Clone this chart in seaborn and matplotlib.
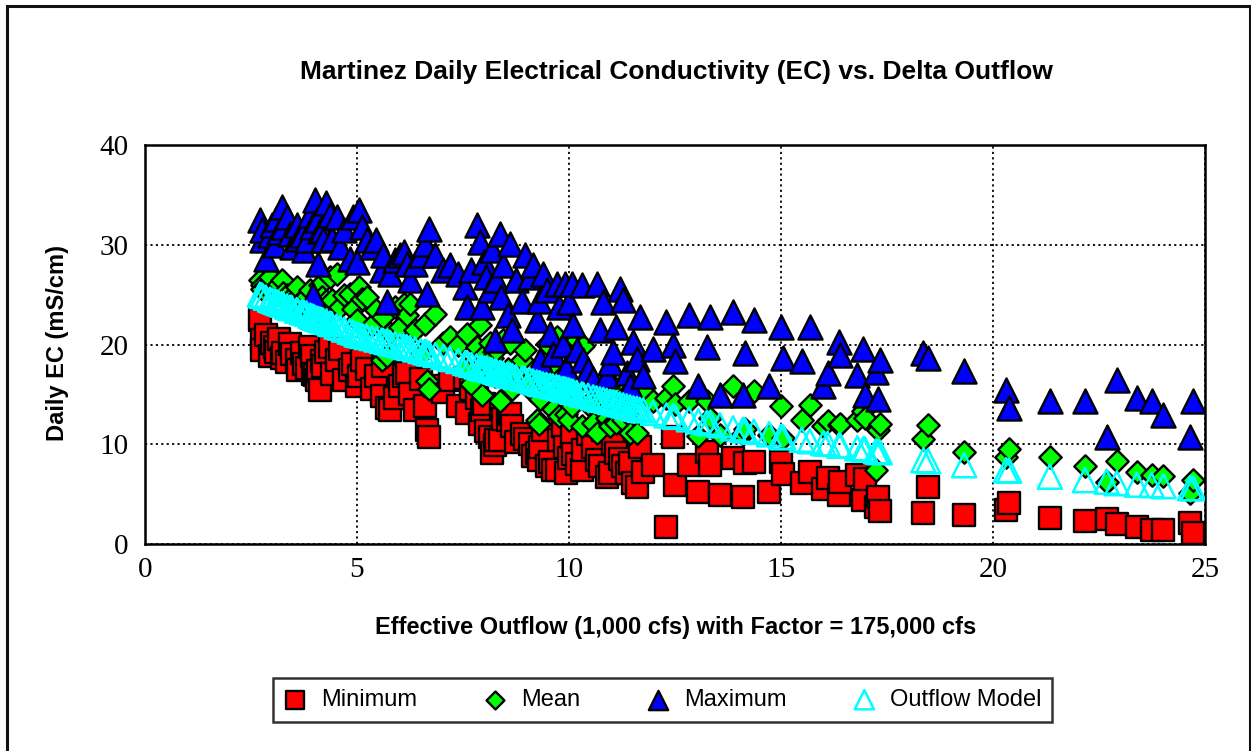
import matplotlib
matplotlib.use("Agg")
import matplotlib.pyplot as plt
from matplotlib.patches import Rectangle
import seaborn as sns
import pandas as pd

# Effective Delta outflow (1,000 cfs) for each day
outflow = [
    2.71, 2.75, 2.77, 2.85, 2.95, 3.00, 3.07, 3.10, 3.15, 3.22, 3.26,
    3.35, 3.42, 3.46, 3.58, 3.60, 3.70, 3.75, 3.81, 3.90, 3.95, 3.97, 4.00, 4.05, 4.09, 4.13, 4.17, 4.20, 4.28,
    4.36, 4.40, 4.52, 4.60, 4.70, 4.83, 4.91, 4.99, 5.05, 5.13, 5.23,
    5.35, 5.46, 5.58, 5.62, 5.70, 5.78, 5.90, 6.01, 6.10, 6.17, 6.25,
    6.37, 6.50, 6.60, 6.64, 6.70, 6.85, 7.04, 7.19, 7.39,
    7.55, 7.60, 7.70, 7.82, 7.90, 7.95, 8.00, 8.05, 8.14, 8.18, 8.25, 8.29, 8.37, 8.40, 8.45,
    8.55, 8.61, 8.66, 8.75, 8.90, 8.96, 9.08, 9.15, 9.24, 9.30, 9.32, 9.39, 9.47, 9.55, 9.62,
    9.71, 9.77, 9.85, 9.90, 9.94, 10.00, 10.06, 10.10, 10.18, 10.30, 10.34, 10.45, 10.57, 10.65,
    10.73, 10.81, 10.89, 10.97, 11.04, 11.12, 11.20, 11.28, 11.36, 11.44, 11.52, 11.60, 11.67, 11.75,
    11.98, 12.30, 12.45, 12.50, 12.83, 13.05, 13.25, 13.33, 13.56, 13.87, 14.10, 14.15, 14.36, 14.72,
    15.00, 15.05, 15.49, 15.68, 16.00, 16.10, 16.37, 16.40, 16.80, 16.94, 16.98, 17.24, 17.29, 17.33,
    18.36, 18.47, 19.32, 20.31, 20.38, 21.34, 22.17, 22.68, 22.92, 23.39, 23.74, 24.02, 24.65, 24.72,
]

# Daily minimum EC (mS/cm)
ec_min = [
    22.5, 20.5, 19.5, 21.0, 18.8, 20.2, 19.8, 19.3, 20.6, 18.6, 19.1,
    18.2, 20.1, 19.0, 18.4, 17.4, 19.2, 18.0, 17.6, 19.8, 18.8, 17.0, 16.9, 16.4, 17.3, 15.4, 18.3, 17.8, 19.3,
    19.8, 17.0, 18.4, 19.6, 16.4, 17.4, 18.0, 15.8, 16.8, 18.4, 17.5,
    15.5, 16.8, 14.8, 17.8, 13.6, 13.4, 14.6, 15.8, 16.8, 17.1, 15.0,
    13.4, 16.5, 13.8, 11.4, 10.7, 15.8, 15.2, 16.4, 13.8,
    16.6, 13.1, 15.5, 14.6, 12.0, 13.4, 14.0, 11.3, 10.75, 9.1, 9.9, 10.4, 10.4, 13.5, 12.5,
    12.4, 13.0, 11.8, 10.2, 11.0, 10.5, 10.0, 8.8, 9.1, 8.4, 9.75, 11.4, 7.8, 8.2, 7.4,
    7.4, 10.4, 11.8, 9.75, 7.1, 8.6, 10.75, 9.0, 8.0, 7.4, 9.4, 11.0, 9.75, 8.4,
    7.8, 11.4, 6.75, 7.1, 10.0, 9.1, 8.5, 7.8, 7.1, 8.1, 6.1, 5.7, 9.75, 7.2,
    7.9, 1.7, 10.75, 5.9, 7.9, 5.25, 9.25, 7.9, 4.9, 8.6, 4.75, 8.1, 8.25, 5.25,
    8.25, 7.0, 6.1, 7.25, 5.5, 6.6, 4.9, 6.2, 6.9, 4.4, 6.5, 3.7, 4.75, 3.3,
    3.1, 5.75, 2.9, 3.4, 4.1, 2.65, 2.3, 2.5, 2.0, 1.75, 1.4, 1.4, 2.1, 1.1,
]

# Daily mean EC (mS/cm)
ec_mean = [
    26.5, 26.0, 25.6, 25.9, 26.8, 25.3, 25.5, 25.0, 26.1, 26.5, 25.2,
    25.0, 24.6, 24.3, 25.8, 24.0, 24.5, 23.6, 24.9, 25.5, 23.3, 22.8, 23.8, 24.2, 22.5, 26.0, 24.8, 23.0, 24.4,
    26.8, 24.5, 27.1, 23.8, 25.0, 25.1, 23.6, 22.5, 25.8, 24.6, 24.8,
    22.0, 23.5, 18.4, 22.8, 18.8, 21.2, 23.8, 21.8, 24.1, 23.0, 24.1,
    21.5, 19.0, 22.1, 16.3, 15.5, 23.1, 20.2, 20.8, 20.0,
    17.5, 21.1, 16.0, 19.8, 22.0, 14.9, 18.2, 19.2, 20.2, 18.6, 16.8, 19.5, 14.3, 17.0, 20.5,
    17.5, 20.2, 15.5, 17.2, 18.4, 19.5, 16.4, 15.2, 12.4, 12.0, 14.5, 16.8, 20.1, 17.8, 13.5,
    20.8, 12.8, 16.0, 14.6, 13.0, 12.4, 13.8, 20.1, 20.5, 11.8, 19.9, 14.0, 12.1, 11.1,
    15.2, 14.8, 12.6, 11.8, 15.8, 12.1, 13.5, 12.4, 13.1, 11.1, 14.8, 11.1, 15.8, 15.3,
    14.3, 14.6, 15.8, 14.0, 14.3, 10.8, 14.3, 12.6, 10.9, 15.8, 11.0, 11.5, 15.3, 10.9,
    13.8, 10.6, 12.4, 13.9, 11.8, 12.3, 11.9, 12.0, 12.4, 13.3, 12.6, 7.4, 11.4, 12.0,
    10.5, 11.9, 9.25, 8.75, 9.5, 8.75, 7.8, 6.25, 8.35, 7.25, 6.9, 6.8, 5.1, 6.4,
]

# Daily maximum EC (mS/cm)
ec_max = [
    32.5, 30.5, 31.5, 28.6, 31.0, 32.0, 30.0, 32.6, 31.3, 33.8, 31.8,
    32.8, 31.1, 29.8, 32.0, 30.6, 31.0, 29.5, 30.5, 33.0, 31.8, 25.0, 34.5, 32.5, 28.1, 31.4, 31.5, 30.5, 34.2,
    33.0, 30.6, 32.8, 29.8, 31.5, 28.6, 32.8, 28.3, 33.5, 31.8, 30.5,
    29.8, 30.5, 27.5, 29.0, 24.3, 27.1, 28.5, 29.0, 29.3, 28.1, 26.5,
    28.1, 29.0, 30.1, 25.1, 31.6, 29.0, 27.5, 28.0, 27.1,
    25.8, 23.8, 27.5, 32.0, 30.3, 23.8, 28.3, 26.8, 25.5, 29.5, 20.5, 26.5, 31.1, 24.8, 28.0,
    23.0, 30.1, 21.5, 26.5, 24.4, 29.0, 26.8, 28.0, 22.5, 24.4, 18.4, 27.1, 25.5, 21.1, 19.0,
    26.1, 23.8, 20.0, 26.1, 17.6, 24.3, 26.1, 22.0, 19.5, 26.0, 18.4, 17.4, 16.5, 26.1,
    21.5, 24.3, 16.8, 18.1, 19.3, 21.8, 25.6, 24.5, 17.1, 15.8, 20.3, 18.5, 22.8, 16.8,
    19.6, 22.3, 19.95, 18.3, 23.0, 15.8, 19.8, 22.8, 14.9, 23.3, 14.9, 19.1, 22.5, 15.8,
    21.8, 18.6, 18.3, 21.8, 15.8, 17.1, 20.3, 18.9, 16.9, 19.6, 14.9, 17.2, 14.5, 18.4,
    19.1, 18.6, 17.3, 15.4, 13.6, 14.3, 14.3, 10.75, 16.4, 14.6, 14.3, 12.9, 10.75, 14.3,
]

# Outflow model EC (mS/cm)
ec_model = [
    25.0, 24.9, 24.85, 24.7, 24.5, 24.4, 24.3, 24.25, 24.15, 24.05, 24.0,
    23.8, 23.7, 23.65, 23.45, 23.4, 23.25, 23.2, 23.1, 22.9, 22.8, 22.75, 22.7, 22.6, 22.55, 22.5, 22.45, 22.4, 22.25,
    22.1, 22.05, 21.8, 21.7, 21.5, 21.3, 21.2, 21.0, 20.95, 20.85, 20.75,
    20.65, 20.5, 20.4, 20.35, 20.25, 20.15, 20.05, 19.9, 19.8, 19.75, 19.65,
    19.5, 19.35, 19.25, 19.2, 19.1, 18.95, 18.75, 18.55, 18.35,
    18.15, 18.1, 17.95, 17.8, 17.7, 17.65, 17.6, 17.55, 17.45, 17.4, 17.3, 17.25, 17.15, 17.1, 17.05,
    16.95, 16.9, 16.85, 16.75, 16.6, 16.55, 16.4, 16.3, 16.2, 16.1, 16.1, 16.0, 15.95, 15.85, 15.8,
    15.7, 15.65, 15.55, 15.5, 15.45, 15.4, 15.3, 15.25, 15.15, 15.0, 14.95, 14.85, 14.7, 14.6,
    14.5, 14.45, 14.35, 14.25, 14.2, 14.1, 14.0, 13.9, 13.8, 13.7, 13.6, 13.55, 13.45, 13.4,
    13.15, 12.9, 12.8, 12.75, 12.5, 12.3, 12.15, 12.1, 11.9, 11.6, 11.45, 11.4, 11.25, 11.0,
    10.75, 10.7, 10.45, 10.3, 10.1, 10.05, 9.9, 9.85, 9.6, 9.5, 9.5, 9.3, 9.25, 9.2,
    8.4, 8.3, 7.9, 7.4, 7.35, 6.75, 6.4, 6.25, 6.1, 5.95, 5.9, 5.8, 5.6, 5.6,
]

x_ticks = [0, 5, 10, 15, 20, 25]
y_ticks = [0, 10, 20, 30, 40]

df = pd.DataFrame({
    "outflow": outflow,
    "Minimum": ec_min,
    "Mean": ec_mean,
    "Maximum": ec_max,
    "Outflow Model": ec_model,
})

sns.set_style("white")
plt.rcParams["font.family"] = ["Liberation Sans", "DejaVu Sans"]
plt.rcParams["text.color"] = "black"
plt.rcParams["axes.labelcolor"] = "black"
plt.rcParams["xtick.color"] = "black"
plt.rcParams["ytick.color"] = "black"

fig = plt.figure(figsize=(12.51, 7.51), dpi=100)
ax = fig.add_axes([0.1159, 0.2756, 0.8473, 0.5313])

# page frame
fig.patches.append(Rectangle((6.5 / 1251, -0.05), (1249.5 - 6.5) / 1251, 1.05 - 5.5 / 751,
                             transform=fig.transFigure, fill=False,
                             edgecolor="#111111", linewidth=2.2, zorder=0))

sns.scatterplot(data=df, x="outflow", y="Minimum", ax=ax, marker="s", s=260,
                color="#FF0000", edgecolor="black", linewidth=1.7, label="Minimum", zorder=3)
sns.scatterplot(data=df, x="outflow", y="Mean", ax=ax, marker="D", s=130,
                color="#00FF00", edgecolor="black", linewidth=1.7, label="Mean", zorder=4)
sns.scatterplot(data=df, x="outflow", y="Maximum", ax=ax, marker="^", s=300,
                color="#0000FF", edgecolor="black", linewidth=1.7, label="Maximum", zorder=5)
sns.scatterplot(data=df, x="outflow", y="Outflow Model", ax=ax, marker="^", s=300,
                facecolor="none", edgecolor="#00FFFF", linewidth=1.8, label="Outflow Model", zorder=6)

ax.set_xlim(0, 25)
ax.set_ylim(0, 40)
ax.set_xticks(x_ticks)
ax.set_yticks(y_ticks)
ax.set_xticklabels([str(t) for t in x_ticks], fontfamily="Liberation Serif", fontsize=21)
ax.set_yticklabels([str(t) for t in y_ticks], fontfamily="Liberation Serif", fontsize=21)
ax.tick_params(direction="in", length=6, width=1.5, color="black", pad=12)
ax.tick_params(axis="x", pad=9)

ax.grid(True, color="black", linestyle=(0, (1.2, 1.8)), linewidth=1.3)
ax.set_axisbelow(True)
for sp in ax.spines.values():
    sp.set_visible(True)
    sp.set_color("black")
    sp.set_linewidth(1.8)

ax.set_xlabel("Effective Outflow (1,000 cfs) with Factor = 175,000 cfs",
              fontsize=17, fontweight="bold")
ax.set_ylabel("Daily EC (mS/cm)", fontsize=17, fontweight="bold")
ax.xaxis.set_label_coords(0.501, -0.18)
ax.yaxis.set_label_coords(-0.072, 0.505)

fig.text(0.541, 0.904, "Martinez Daily Electrical Conductivity (EC) vs. Delta Outflow",
         ha="center", va="center", fontsize=19, fontweight="bold")

if ax.legend_ is not None:
    ax.legend_.remove()
handles, labels = ax.get_legend_handles_labels()
leg = fig.legend(handles, labels, loc="center", bbox_to_anchor=(0.5296, 0.068),
                 ncol=4, frameon=True, fancybox=False, edgecolor="black",
                 fontsize=17, markerscale=0.8, handletextpad=0.6,
                 columnspacing=2.8, borderpad=0.45, handlelength=1.0,
                 borderaxespad=0)
leg.get_frame().set_linewidth(1.8)

fig.savefig("out.png", dpi=100, facecolor="white")
